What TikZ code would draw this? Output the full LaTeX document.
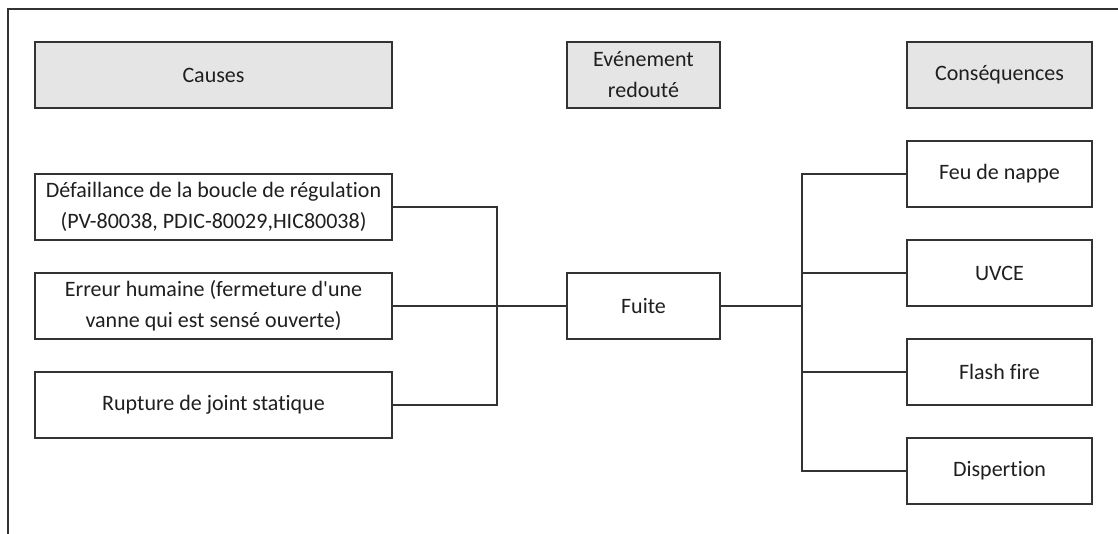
\documentclass[tikz,border=0pt]{standalone}
\usepackage{fontspec}
\setmainfont{Carlito}[Ligatures={NoCommon}]
\begin{document}
\begin{tikzpicture}[x=1pt,y=-1pt,
  line width=1.4pt,
  every node/.style={font=\fontsize{22}{31}\selectfont, text=black!88, align=center, inner sep=0pt},
  box/.style={draw=black!80, fill=white, minimum height=66pt},
  head/.style={box, fill=black!10},
  cause/.style={box, minimum width=357pt},
  cons/.style={box, minimum width=185pt},
  mid/.style={box, minimum width=153pt},
  link/.style={draw=black!80, line width=1.4pt}]
\useasboundingbox (0,0) rectangle (1118,534);
% outer frame (top and left edges)
\draw[draw=black!80] (8,534) -- (8,9) -- (1118,9);

% column headers
\node[head, minimum width=357pt] (hcauses) at (213.5,75) {Causes};
\node[head, minimum width=153pt] (hevent) at (643.5,75) {Evénement\\redouté};
\node[head, minimum width=185pt] (hcons) at (999.5,75) {Conséquences};

% causes
\node[cause] (c1) at (213.5,207) {Défaillance de la boucle de régulation\\(PV-80038, PDIC-80029,HIC80038)};
\node[cause] (c2) at (213.5,306) {Erreur humaine (fermeture d\textquotesingle une\\vanne qui est sensé ouverte)};
\node[cause] (c3) at (213.5,405) {Rupture de joint statique};

% central event
\node[mid] (fuite) at (643.5,306) {Fuite};

% consequences
\node[cons] (k1) at (999.5,174) {Feu de nappe};
\node[cons] (k2) at (999.5,273) {UVCE};
\node[cons] (k3) at (999.5,372) {Flash fire};
\node[cons] (k4) at (999.5,471) {Dispertion};

% junction points of the two buses
\coordinate (jl) at (497,306);
\coordinate (jr) at (802,306);

% causes to event
\draw[link] (c1.east) -| (jl);
\draw[link] (c3.east) -| (jl);
\draw[link] (c2.east) -- (fuite.west);

% event to consequences
\draw[link] (fuite.east) -- (jr);
\draw[link] (jr) |- (k1.west);
\draw[link] (jr) |- (k2.west);
\draw[link] (jr) |- (k3.west);
\draw[link] (jr) |- (k4.west);
\end{tikzpicture}
\end{document}
